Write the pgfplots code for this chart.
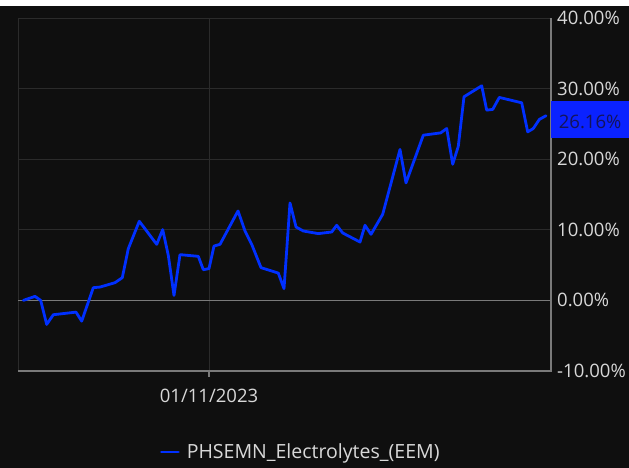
\documentclass[border=0pt]{standalone}
\usepackage{fontspec}
\setmainfont{Open Sans}
\usepackage{pgfplots}
\usepackage{pgfplotstable}
\pgfplotsset{compat=1.18}
\definecolor{bg}{HTML}{0F0F0F}
\definecolor{gridc}{HTML}{2B2B2B}
\definecolor{axc}{HTML}{7A7A7A}
\definecolor{lineblue}{HTML}{0030FF}
\definecolor{tagblue}{HTML}{0A22FF}
\definecolor{txt}{HTML}{D8D8D8}
\definecolor{tagtxt}{HTML}{14145A}
\pgfplotstableread{
x y
23.3 0.00
35.0 0.57
40.7 0.00
46.7 -3.40
53.3 -2.03
76.0 -1.66
81.7 -2.94
93.3 1.80
100.0 1.89
115.0 2.51
122.3 3.22
128.3 7.33
139.3 11.21
156.7 7.94
162.7 10.03
168.3 6.38
174.0 0.70
180.0 6.48
198.3 6.24
203.3 4.35
209.0 4.50
214.0 7.70
220.0 7.94
238.0 12.67
245.0 9.83
251.7 7.94
261.0 4.64
278.3 3.87
284.0 1.66
290.0 13.80
296.0 10.40
303.3 9.83
318.3 9.46
331.7 9.69
336.7 10.64
342.7 9.55
360.0 8.27
365.0 10.64
371.0 9.36
382.7 12.20
400.0 21.38
406.0 16.64
423.3 23.40
440.7 23.73
446.7 24.35
452.7 19.29
458.3 21.84
464.0 28.84
481.7 30.40
486.7 26.95
492.7 27.05
499.3 28.75
521.7 27.99
527.7 23.87
533.3 24.35
539.3 25.63
546.0 26.16
}\datatable
\newcommand{\lbl}{\fontsize{18.6}{22}\selectfont}
\newcommand{\leg}{\fontsize{19.6}{23}\selectfont}
\begin{document}
\begin{tikzpicture}
\useasboundingbox (0,0) rectangle (629bp,468bp);
\fill[bg] (0,0) rectangle (629bp,468bp);
\fill[white] (0,462bp) rectangle (629bp,468bp);
\begin{axis}[
  at={(18bp,97bp)}, anchor=south west,
  scale only axis, width=533bp, height=353bp,
  xmin=18, xmax=551, ymin=-10, ymax=40,
  axis line style={draw=none},
  xtick={209}, xticklabels={01/11/2023},
  ytick={-10,0,10,20,30,40},
  yticklabels={-10.00\%,0.00\%,10.00\%,20.00\%,30.00\%,40.00\%},
  yticklabel pos=right,
  ymajorgrids, xmajorgrids,
  grid style={gridc, line width=1bp},
  tick label style={font=\lbl, text=txt},
  yticklabel style={anchor=west, inner sep=0pt, xshift=6bp},
  xticklabel style={anchor=base, inner sep=0pt, yshift=-32bp},
  major tick length=0pt,
  clip=false,
  legend style={at={(0.2664,-0.2295)}, anchor=west, draw=none, fill=none,
    text=txt, font=\leg, inner sep=0pt, outer sep=0pt,
    nodes={inner sep=0pt}, column sep=7bp},
  legend image code/.code={\draw[#1, line width=2.8bp] (0bp,0bp) -- (17bp,0bp);},
]
\draw[gridc, line width=1bp] (rel axis cs:0,0) -- (rel axis cs:0,1) -- (rel axis cs:1,1);
\draw[axc, line width=1.3bp] (axis cs:18,0) -- (axis cs:551,0);
\draw[axc, line width=1.3bp] (rel axis cs:0,0) -- (rel axis cs:1,0) -- (rel axis cs:1,1);
\draw[axc, line width=1.3bp] (axis cs:209,-10) -- ([yshift=-6bp]axis cs:209,-10);
\addplot[lineblue, line width=2.8bp, line join=round, line cap=round] table[x=x,y=y] {\datatable};
\addlegendentry{PHSEMN\_Electrolytes\_(EEM)}
\fill[tagblue] ([yshift=-18.8bp]axis cs:551,25.6) rectangle ([xshift=78bp,yshift=18.8bp]axis cs:551,25.6);
\node[anchor=base west, inner sep=0pt, text=tagtxt, font=\lbl] at ([xshift=7.6bp]axis cs:551,24.35) {26.16\%};
\end{axis}
\end{tikzpicture}
\end{document}
